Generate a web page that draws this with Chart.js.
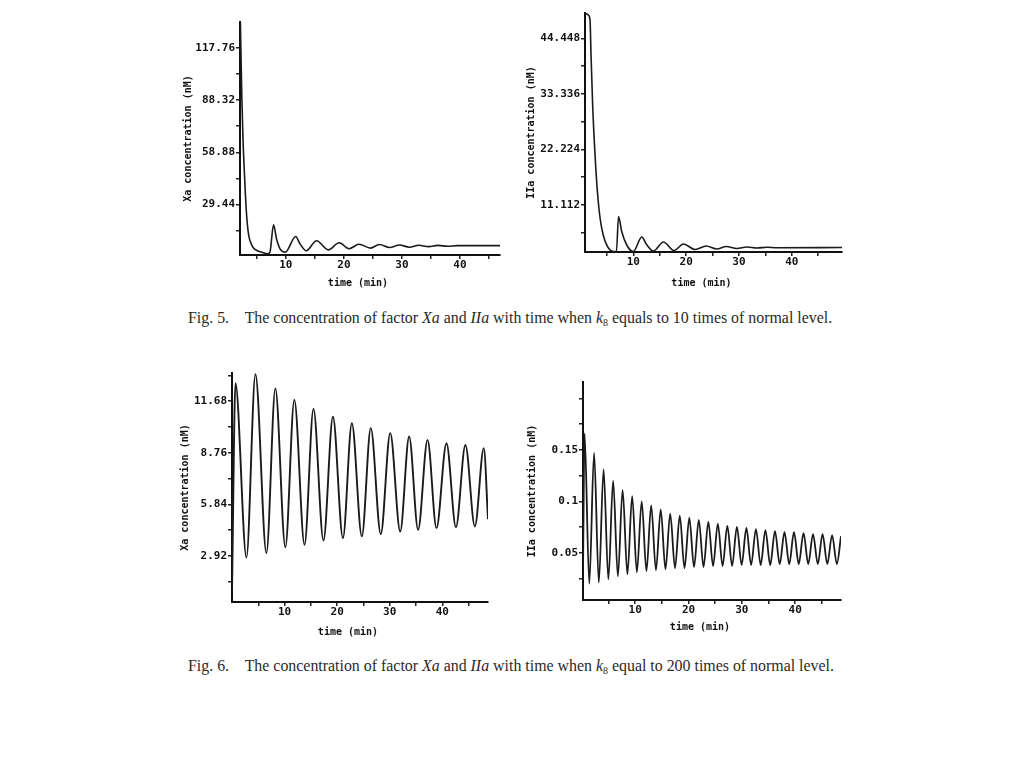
<!DOCTYPE html>
<html>
<head>
<meta charset="utf-8">
<script src="https://cdn.jsdelivr.net/npm/chart.js"></script>
<style>
  body { margin: 0; background: #fff; width: 1024px; height: 767px; position: relative; overflow: hidden; }
  canvas { position: absolute; }
  .cap { position: absolute; left: 188px; font-family: "Liberation Serif", serif; font-size: 15.9px; line-height: 20px; color: #2a2a2a; white-space: nowrap; }
  .cap sub { font-size: 10px; vertical-align: -3px; line-height: 0; }
</style>
</head>
<body>
<canvas id="xa5" width="332" height="281" style="left:178px;top:10px"></canvas>
<canvas id="iia5" width="330" height="286" style="left:520px;top:5px"></canvas>
<div class="cap" style="top:308px">Fig. 5.&nbsp;&nbsp;&nbsp; The concentration of factor <i>Xa</i> and <i>IIa</i> with time when <i>k</i><sub>8</sub> equals to 10 times of normal level.</div>

<canvas id="xa6" width="320" height="275" style="left:175px;top:365px"></canvas>
<canvas id="iia6" width="330" height="263" style="left:520px;top:372px"></canvas>
<div class="cap" style="top:656px">Fig. 6.&nbsp;&nbsp;&nbsp; The concentration of factor <i>Xa</i> and <i>IIa</i> with time when <i>k</i><sub>8</sub> equal to 200 times of normal level.</div>

<script>
// ------------------- Fig. 5 : k8 = 10 x normal -------------------
const xa5Time = [2.17, 2.4, 2.63, 2.85, 3.03, 3.32, 3.6, 3.89, 4.3, 4.74, 5.6, 6.85, 7.25, 7.88, 8.4, 9.0, 9.9, 11.7, 12.4, 13.5, 15.3, 17.3, 19.2, 20.9, 22.6, 24.6, 26.1, 27.9, 29.6, 31.3, 32.9, 34.6, 36.2, 37.9, 39.5, 46.9];
const xa5Conc = [132, 92, 65, 48, 35, 20, 12, 8.4, 5.5, 4, 2.8, 1.7, 2.5, 18, 10, 4.5, 2.6, 11.4, 7.5, 3.4, 9.0, 3.9, 7.9, 4.5, 7.1, 4.9, 6.9, 5.2, 6.6, 5.4, 6.5, 5.7, 6.4, 5.9, 6.3, 6.3];
const xa5Ticks = [14.72, 29.44, 44.16, 58.88, 73.6, 88.32, 103.04, 117.76];
const xa5Labels = ['', '29.44', '', '58.88', '', '88.32', '', '117.76'];

const iia5Time = [0.85, 1.48, 1.8, 1.99, 2.3, 2.75, 3.2, 3.7, 4.3, 5.1, 6.2, 6.8, 7.2, 7.8, 8.75, 10.0, 11.6, 12.5, 13.8, 15.7, 17.7, 19.5, 21.7, 23.8, 25.8, 27.6, 29.6, 31.5, 33.4, 35.3, 37.2, 49.5];
const iia5Conc = [49.5, 49.1, 48.1, 41.1, 31.1, 21.1, 13.8, 8.5, 5.1, 2.8, 1.8, 1.8, 8.8, 5.8, 3.1, 1.8, 4.7, 3.2, 1.9, 3.7, 2.0, 3.3, 2.2, 2.9, 2.3, 2.8, 2.4, 2.7, 2.5, 2.65, 2.55, 2.6];
const iia5Ticks = [5.556, 11.112, 16.668, 22.224, 27.78, 33.336, 38.892, 44.448];
const iia5Labels = ['', '11.112', '', '22.224', '', '33.336', '', '44.448'];

// ------------------- Fig. 6 : k8 = 200 x normal -------------------
const xa6Time = [0, 0.66, 2.75, 4.46, 6.55, 8.25, 10.15, 11.86, 13.8, 15.5, 17.4, 19.2, 21.1, 22.8, 24.7, 26.4, 28.3, 30.1, 32.0, 33.7, 35.4, 37.2, 38.9, 40.8, 42.6, 44.4, 46.2, 47.9, 48.7];
const xa6Conc = [1.0, 12.7, 2.84, 13.2, 3.09, 12.4, 3.41, 11.75, 3.56, 11.24, 3.8, 10.8, 3.93, 10.43, 4.03, 10.15, 4.16, 9.87, 4.31, 9.68, 4.4, 9.49, 4.5, 9.3, 4.55, 9.2, 4.59, 9.02, 5.0];
const xa6Ticks = [1.46, 2.92, 4.38, 5.84, 7.3, 8.76, 10.22, 11.68, 13.14];
const xa6Labels = ['', '2.92', '', '5.84', '', '8.76', '', '11.68', ''];

const iia6Time = [0.2, 0.49, 1.38, 2.28, 3.17, 4.06, 4.96, 5.85, 6.74, 7.63, 8.53, 9.42, 10.31, 11.21, 12.1, 12.99, 13.88, 14.78, 15.67, 16.56, 17.46, 18.35, 19.24, 20.14, 21.03, 21.92, 22.81, 23.71, 24.6, 25.49, 26.39, 27.28, 28.17, 29.07, 29.96, 30.85, 31.74, 32.64, 33.53, 34.42, 35.32, 36.21, 37.1, 38.0, 38.89, 39.78, 40.67, 41.57, 42.46, 43.35, 44.25, 45.14, 46.03, 46.93, 47.82, 48.6];
const iia6Conc = [0.03, 0.166, 0.02, 0.147, 0.021, 0.131, 0.024, 0.12, 0.027, 0.111, 0.029, 0.105, 0.031, 0.1, 0.032, 0.096, 0.033, 0.092, 0.034, 0.088, 0.035, 0.086, 0.035, 0.084, 0.036, 0.082, 0.036, 0.08, 0.037, 0.078, 0.037, 0.076, 0.037, 0.075, 0.038, 0.074, 0.038, 0.073, 0.038, 0.072, 0.038, 0.071, 0.039, 0.07, 0.039, 0.07, 0.039, 0.069, 0.039, 0.068, 0.039, 0.068, 0.039, 0.067, 0.039, 0.066];
const iia6Ticks = [0.025, 0.05, 0.075, 0.1, 0.125, 0.15, 0.175, 0.2];
const iia6Labels = ['', '0.05', '', '0.1', '', '0.15', '', ''];

// time axis, shared by all four panels
const timeTicks = [5, 10, 15, 20, 25, 30, 35, 40, 45];
const timeLabels = ['', '10', '', '20', '', '30', '', '40', ''];

const mono = '"DejaVu Sans Mono", monospace';

function drawPanel(id, times, values, p) {
  const pts = times.map((t, i) => ({ x: t, y: values[i] }));
  new Chart(document.getElementById(id), {
    type: 'line',
    data: {
      datasets: [{
        data: pts,
        borderColor: '#1b1b1b',
        borderWidth: p.lineWidth,
        pointRadius: 0,
        cubicInterpolationMode: 'monotone',
        fill: false
      }]
    },
    options: {
      responsive: false,
      animation: false,
      layout: { padding: { top: p.padTop, right: p.padRight, left: 0, bottom: 0 } },
      plugins: { legend: { display: false }, tooltip: { enabled: false } },
      scales: {
        x: {
          type: 'linear',
          min: p.xMin,
          max: p.xMax,
          afterBuildTicks: s => { s.ticks = timeTicks.map(v => ({ value: v })); },
          afterFit: s => { s.height = p.xHeight; },
          ticks: {
            autoSkip: false, maxRotation: 0, padding: 0, color: '#111',
            font: { family: mono, size: 11, weight: 'bold' },
            callback: (v, i) => timeLabels[i]
          },
          grid: { drawOnChartArea: false, tickLength: 4, color: '#222', lineWidth: 1.5 },
          border: { color: '#111', width: 2 },
          title: {
            display: true, text: 'time (min)    ', color: '#111',
            font: { family: mono, size: 10, weight: 'bold' },
            padding: { top: 0, bottom: 2 }
          }
        },
        y: {
          min: p.yMin,
          max: p.yMax,
          afterBuildTicks: s => { s.ticks = p.yTicks.map(v => ({ value: v })); },
          afterFit: s => { s.width = p.yWidth; },
          ticks: {
            autoSkip: false, padding: 1, color: '#111',
            font: { family: mono, size: p.tickSize, weight: 'bold' },
            callback: (v, i) => p.yLabels[i]
          },
          grid: { drawOnChartArea: false, tickLength: 4, color: '#222', lineWidth: 1.5 },
          border: { color: '#111', width: 2 },
          title: {
            display: true, text: p.yTitle, color: '#111',
            font: { family: mono, size: 10, weight: 'bold' },
            padding: { top: p.titlePad, bottom: 0 }
          }
        }
      }
    }
  });
}

drawPanel('xa5', xa5Time, xa5Conc, {
  xMin: 2.1, xMax: 46.9, yMin: 1, yMax: 132.3,
  yTicks: xa5Ticks, yLabels: xa5Labels, yTitle: 'Xa concentration (nM)',
  padTop: 12, padRight: 10, yWidth: 62, xHeight: 36, titlePad: 4, tickSize: 11, lineWidth: 1.6
});

drawPanel('iia5', iia5Time, iia5Conc, {
  xMin: 0.85, xMax: 49.5, yMin: 1.7, yMax: 49.5,
  yTicks: iia5Ticks, yLabels: iia5Labels, yTitle: 'IIa concentration (nM)',
  padTop: 8, padRight: 8, yWidth: 65, xHeight: 39, titlePad: 5, tickSize: 11, lineWidth: 1.6
});

drawPanel('xa6', xa6Time, xa6Conc, {
  xMin: 0, xMax: 48.7, yMin: 0.32, yMax: 13.27,
  yTicks: xa6Ticks, yLabels: xa6Labels, yTitle: 'Xa concentration (nM)',
  padTop: 8, padRight: 7, yWidth: 57, xHeight: 38, titlePad: 4, tickSize: 11, lineWidth: 1.9
});

drawPanel('iia6', iia6Time, iia6Conc, {
  xMin: 0.2, xMax: 48.6, yMin: 0.004, yMax: 0.216,
  yTicks: iia6Ticks, yLabels: iia6Labels, yTitle: 'IIa concentration (nM)',
  padTop: 10, padRight: 9, yWidth: 63, xHeight: 35, titlePad: 6, tickSize: 11, lineWidth: 1.8
});
</script>
</body>
</html>
